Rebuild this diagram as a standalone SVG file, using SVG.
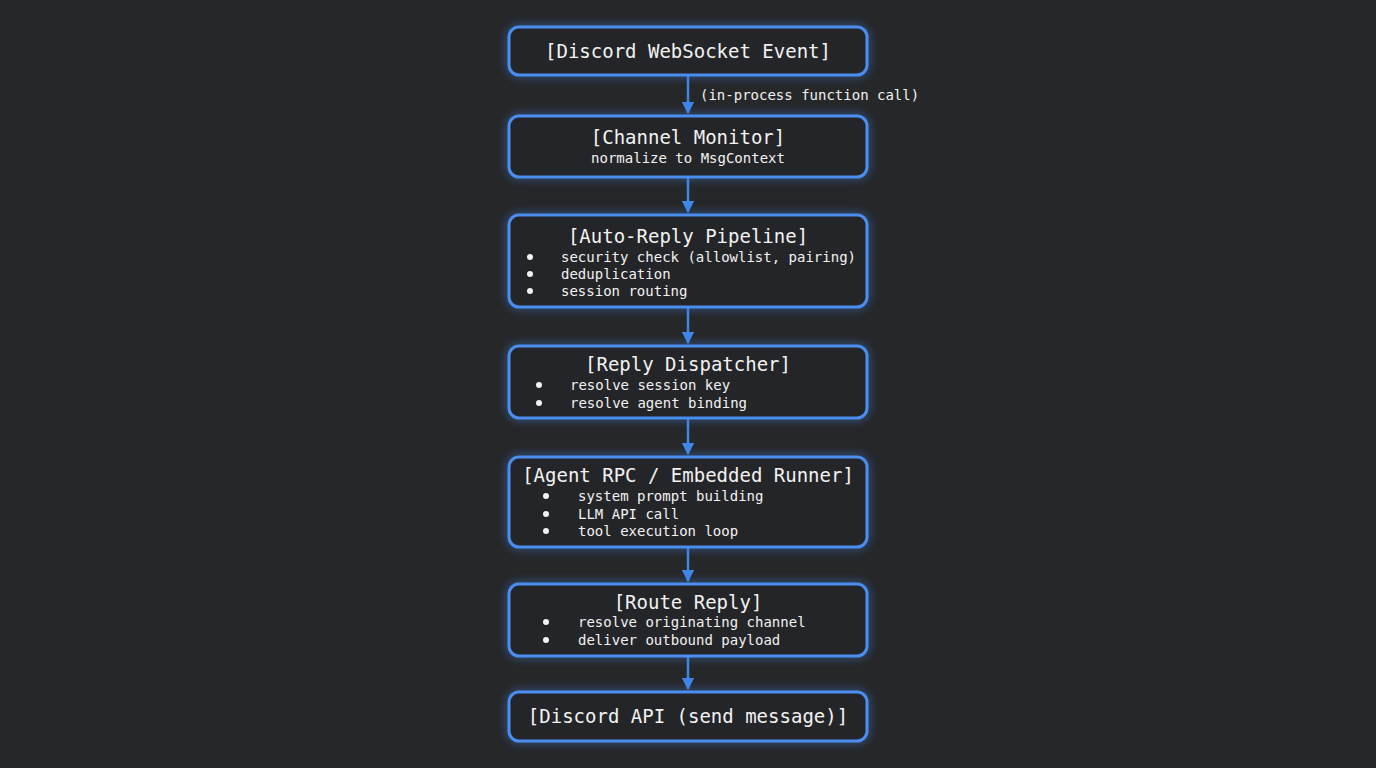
<svg xmlns="http://www.w3.org/2000/svg" width="1376" height="768" viewBox="0 0 1376 768">
<defs>
<filter id="glow" x="-20%" y="-40%" width="140%" height="180%"><feGaussianBlur stdDeviation="4"/></filter>
<marker id="ah" viewBox="0 0 10 10" refX="9" refY="5" markerWidth="5" markerHeight="5" orient="auto"><path d="M0,0 L10,5 L0,10 z" fill="#3f86e8"/></marker>
</defs>
<style>
.b{fill:#242528;stroke:#4a8ef0;stroke-width:3}
.g{fill:none;stroke:#3f86e8;stroke-width:5;opacity:0.55;filter:url(#glow)}
text{font-family:"DejaVu Sans Mono","Liberation Mono",monospace;fill:#f2f2f2}
.t{font-size:19px;text-anchor:middle}
.s{font-size:14px}
.c{text-anchor:middle}
.e{stroke:#3f86e8;stroke-width:2.5;marker-end:url(#ah)}
.d{fill:#f2f2f2}
</style>
<rect width="1376" height="768" fill="#262729"/>
<g id="connectors">
<line class="e" x1="688" y1="76" x2="688" y2="113"/>
<line class="e" x1="688" y1="178" x2="688" y2="212"/>
<line class="e" x1="688" y1="308" x2="688" y2="343"/>
<line class="e" x1="688" y1="419" x2="688" y2="454"/>
<line class="e" x1="688" y1="548" x2="688" y2="581"/>
<line class="e" x1="688" y1="657" x2="688" y2="689"/>
<text class="s" x="700" y="100">(in-process function call)</text>
</g>
<g id="n1"><rect class="g" x="509" y="27" width="358" height="48" rx="10"/><rect class="b" x="509" y="27" width="358" height="48" rx="10"/><text class="t" x="688" y="58">[Discord WebSocket Event]</text></g>
<g id="n2"><rect class="g" x="509" y="116" width="358" height="61" rx="10"/><rect class="b" x="509" y="116" width="358" height="61" rx="10"/><text class="t" x="688" y="144">[Channel Monitor]</text><text class="s c" x="688" y="163">normalize to MsgContext</text></g>
<g id="n3"><rect class="g" x="509" y="215" width="358" height="92" rx="10"/><rect class="b" x="509" y="215" width="358" height="92" rx="10"/><text class="t" x="688" y="243">[Auto-Reply Pipeline]</text>
<circle class="d" cx="530" cy="257" r="3"/><circle class="d" cx="530" cy="274" r="3"/><circle class="d" cx="530" cy="291" r="3"/>
<text class="s" x="561" y="262">security check (allowlist, pairing)</text><text class="s" x="561" y="279">deduplication</text><text class="s" x="561" y="296">session routing</text></g>
<g id="n4"><rect class="g" x="509" y="346" width="358" height="72" rx="10"/><rect class="b" x="509" y="346" width="358" height="72" rx="10"/><text class="t" x="688" y="371">[Reply Dispatcher]</text>
<circle class="d" cx="539" cy="385" r="3"/><circle class="d" cx="539" cy="403" r="3"/>
<text class="s" x="570" y="390">resolve session key</text><text class="s" x="570" y="408">resolve agent binding</text></g>
<g id="n5"><rect class="g" x="509" y="457" width="358" height="90" rx="10"/><rect class="b" x="509" y="457" width="358" height="90" rx="10"/><text class="t" x="688" y="482">[Agent RPC / Embedded Runner]</text>
<circle class="d" cx="546" cy="496" r="3"/><circle class="d" cx="546" cy="514" r="3"/><circle class="d" cx="546" cy="531" r="3"/>
<text class="s" x="578" y="501">system prompt building</text><text class="s" x="578" y="519">LLM API call</text><text class="s" x="578" y="536">tool execution loop</text></g>
<g id="n6"><rect class="g" x="509" y="584" width="358" height="72" rx="10"/><rect class="b" x="509" y="584" width="358" height="72" rx="10"/><text class="t" x="688" y="609">[Route Reply]</text>
<circle class="d" cx="546" cy="622" r="3"/><circle class="d" cx="546" cy="640" r="3"/>
<text class="s" x="578" y="627">resolve originating channel</text><text class="s" x="578" y="645">deliver outbound payload</text></g>
<g id="n7"><rect class="g" x="509" y="692" width="358" height="49" rx="10"/><rect class="b" x="509" y="692" width="358" height="49" rx="10"/><text class="t" x="688" y="723">[Discord API (send message)]</text></g>
</svg>
